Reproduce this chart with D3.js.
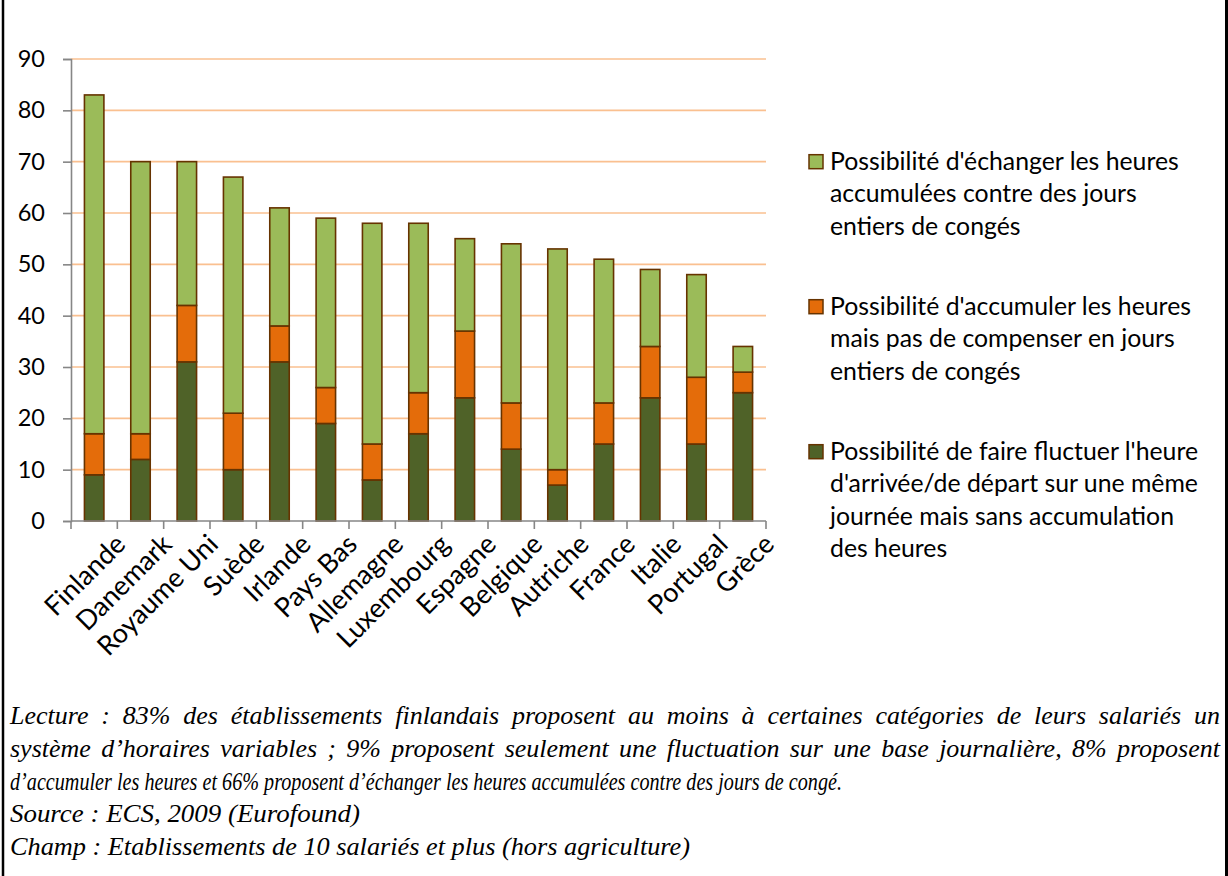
<!DOCTYPE html>
<html>
<head>
<meta charset="utf-8">
<script src="https://cdn.jsdelivr.net/npm/d3@7/dist/d3.min.js"></script>
<style>
  html, body { margin: 0; padding: 0; background: #fff; }
  svg { display: block; }
</style>
</head>
<body>
<svg id="chart" width="1228" height="876"></svg>
<script>
// Pays, classés par part totale d'établissements proposant des horaires variables
const categories = ["Finlande", "Danemark", "Royaume Uni", "Suède", "Irlande", "Pays Bas",
  "Allemagne", "Luxembourg", "Espagne", "Belgique", "Autriche", "France", "Italie",
  "Portugal", "Grèce"];

// Fluctuation journalière seulement (%)
const fluctuation = [9, 12, 31, 10, 31, 19, 8, 17, 24, 14, 7, 15, 24, 15, 25];
// Accumulation des heures sans compensation en jours (%)
const accumulation = [8, 5, 11, 11, 7, 7, 7, 8, 13, 9, 3, 8, 10, 13, 4];
// Échange des heures accumulées contre des jours de congés (%)
const echange = [66, 53, 28, 46, 23, 33, 43, 33, 18, 31, 43, 28, 15, 20, 5];

const yTicks = [0, 10, 20, 30, 40, 50, 60, 70, 80, 90];

const seriesKeys = ["fluctuation", "accumulation", "echange"];
const seriesColors = { fluctuation: "#4F6228", accumulation: "#E46C0A", echange: "#9BBB59" };

// Légende, de haut en bas
const legendOrder = ["echange", "accumulation", "fluctuation"];
const legendLines = {
  echange: ["Possibilité d'échanger les heures", "accumulées contre des jours", "entiers de congés"],
  accumulation: ["Possibilité d'accumuler les heures", "mais pas de compenser en jours", "entiers de congés"],
  fluctuation: ["Possibilité de faire fluctuer l'heure", "d'arrivée/de départ sur une même",
    "journée mais sans accumulation", "des heures"]
};

// Note : lignes justifiées sur toute la largeur, ou de largeur fixée
const noteLines = [
  { text: "Lecture : 83% des établissements finlandais proposent au moins à certaines catégories de leurs salariés un", justify: true },
  { text: "système d’horaires variables ; 9% proposent seulement une fluctuation sur une base journalière, 8% proposent", justify: true },
  { text: "d’accumuler les heures et 66% proposent d’échanger les heures accumulées contre des jours de congé.", justify: false, width: 832 },
  { text: "Source : ECS, 2009 (Eurofound)", justify: false, width: 350 },
  { text: "Champ : Etablissements de 10 salariés et plus (hors agriculture)", justify: false, width: 680 }
];

const svg = d3.select("#chart");
const W = 1228, H = 876;

// Cadre (bords gauche et droit)
svg.append("line").attr("x1", 3).attr("x2", 3).attr("y1", 0).attr("y2", H)
  .attr("stroke", "#000").attr("stroke-width", 2.5);
svg.append("line").attr("x1", 1226.5).attr("x2", 1226.5).attr("y1", 0).attr("y2", H)
  .attr("stroke", "#000").attr("stroke-width", 3);

const plot = { left: 71, right: 766, top: 59, bottom: 521 };

const x = d3.scaleBand().domain(categories)
  .range([plot.left, plot.right])
  .paddingInner(0.58).paddingOuter(0.29);

const y = d3.scaleLinear().domain([0, 90]).range([plot.bottom, plot.top]);

// Quadrillage horizontal
svg.append("g").selectAll("line").data(yTicks.filter(d => d > 0)).join("line")
  .attr("x1", plot.left).attr("x2", plot.right)
  .attr("y1", d => y(d)).attr("y2", d => y(d))
  .attr("stroke", "#FAC090").attr("stroke-width", 1.6);

// Axe vertical
const yAxis = d3.axisLeft(y).tickValues(yTicks).tickSize(8).tickPadding(18);
const gy = svg.append("g").attr("transform", `translate(${plot.left},0)`).call(yAxis);
gy.select(".domain").attr("stroke", "#868686").attr("stroke-width", 1.6);
gy.selectAll(".tick line").attr("stroke", "#868686").attr("stroke-width", 1.6);
gy.selectAll(".tick text")
  .attr("font-family", "Lato, 'Open Sans', sans-serif")
  .attr("font-size", 23.5).attr("fill", "#000");

// Barres empilées
const rows = categories.map((c, i) => ({
  pays: c, fluctuation: fluctuation[i], accumulation: accumulation[i], echange: echange[i]
}));
const stacked = d3.stack().keys(seriesKeys)(rows);

svg.append("g").selectAll("g").data(stacked).join("g")
  .attr("fill", d => seriesColors[d.key])
  .selectAll("rect").data(d => d).join("rect")
  .attr("x", d => x(d.data.pays))
  .attr("width", x.bandwidth())
  .attr("y", d => y(d[1]))
  .attr("height", d => y(d[0]) - y(d[1]))
  .attr("stroke", "#663300").attr("stroke-width", 1.6);

// Axe horizontal : ligne et graduations entre catégories
svg.append("line").attr("x1", plot.left).attr("x2", plot.right)
  .attr("y1", plot.bottom).attr("y2", plot.bottom)
  .attr("stroke", "#868686").attr("stroke-width", 1.6);
const boundaries = d3.range(categories.length + 1).map(i => plot.left + i * x.step());
svg.append("g").selectAll("line").data(boundaries).join("line")
  .attr("x1", d => d).attr("x2", d => d)
  .attr("y1", plot.bottom).attr("y2", plot.bottom + 8)
  .attr("stroke", "#868686").attr("stroke-width", 1.6);

// Libellés des pays inclinés à 45°
svg.append("g").selectAll("text").data(categories).join("text")
  .attr("transform", d => `translate(${x(d) + x.bandwidth() / 2 + 33},${plot.bottom + 25}) rotate(-45)`)
  .attr("text-anchor", "end")
  .attr("font-family", "Lato, 'Open Sans', sans-serif")
  .attr("font-size", 27).attr("fill", "#000")
  .text(d => d);

// Légende
const legendTop = [161.7, 306.7, 451.7];
const lineGap = 32.5;
const lg = svg.append("g");
legendOrder.forEach((key, i) => {
  const cy = legendTop[i];
  lg.append("rect").attr("x", 809).attr("y", cy - 7).attr("width", 14).attr("height", 14)
    .attr("fill", seriesColors[key]).attr("stroke", "#663300").attr("stroke-width", 1.5);
  const t = lg.append("text")
    .attr("font-family", "Lato, 'Open Sans', sans-serif")
    .attr("font-size", 24.8).attr("fill", "#000");
  legendLines[key].forEach((ln, j) => {
    t.append("tspan").attr("x", 830).attr("y", cy + 8 + j * lineGap).text(ln);
  });
});

// Note de lecture et source
const noteLeft = 10, noteRight = 1220;
const noteBase = [724, 757, 790, 822, 855];
const ng = svg.append("g")
  .attr("font-family", "'Liberation Serif', 'DejaVu Serif', serif")
  .attr("font-style", "italic").attr("font-size", 26).attr("fill", "#000");
noteLines.forEach((ln, i) => {
  if (!ln.justify) {
    ng.append("text").attr("x", noteLeft).attr("y", noteBase[i])
      .attr("textLength", ln.width).attr("lengthAdjust", "spacingAndGlyphs")
      .text(ln.text);
    return;
  }
  const words = ln.text.split(" ");
  const t = ng.append("text").attr("y", noteBase[i]);
  const spans = words.map(w => t.append("tspan").text(w));
  const widths = spans.map(s => s.node().getComputedTextLength());
  const total = d3.sum(widths);
  const gap = (noteRight - noteLeft - total) / (words.length - 1);
  let cx = noteLeft;
  spans.forEach((s, k) => { s.attr("x", cx); cx += widths[k] + gap; });
});
</script>
</body>
</html>
